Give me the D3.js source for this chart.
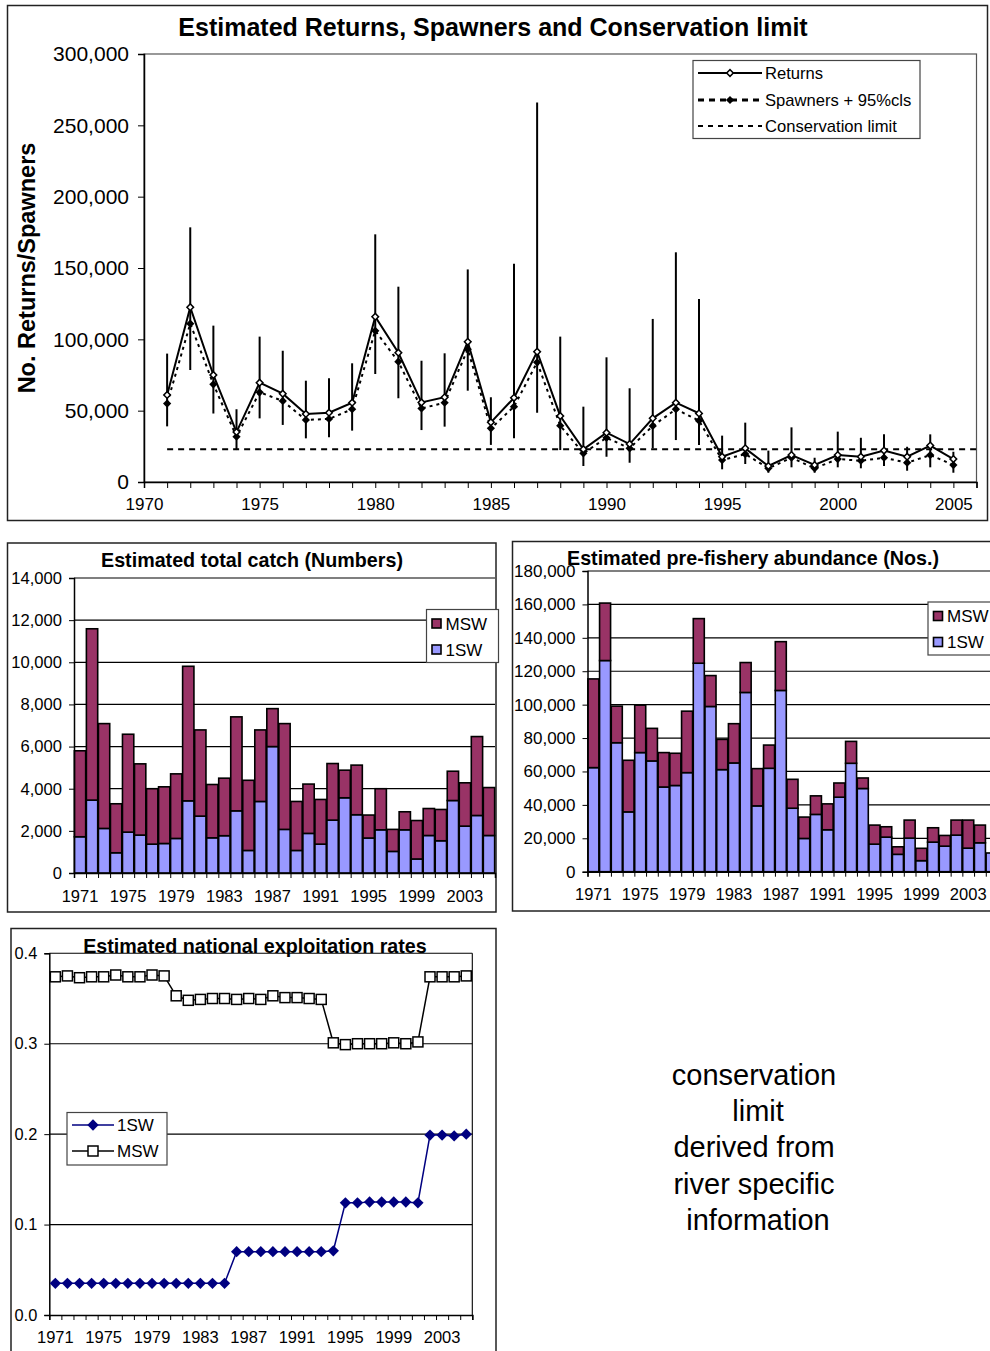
<!DOCTYPE html>
<html>
<head>
<meta charset="utf-8">
<script src="https://cdn.jsdelivr.net/npm/d3@7"></script>
<style>
  body { margin: 0; background: #fff; }
  svg { display: block; font-family: "Liberation Sans", Arial, sans-serif; }
</style>
</head>
<body>
<svg id="chart" width="990" height="1351"></svg>
<script>
// ---- data ----
const years = [1971, 1972, 1973, 1974, 1975, 1976, 1977, 1978, 1979, 1980,
  1981, 1982, 1983, 1984, 1985, 1986, 1987, 1988, 1989, 1990,
  1991, 1992, 1993, 1994, 1995, 1996, 1997, 1998, 1999, 2000,
  2001, 2002, 2003, 2004, 2005];
const yearLabels = [1971, 1975, 1979, 1983, 1987, 1991, 1995, 1999, 2003];

const returns = [61000, 122500, 75000, 35000, 69600, 61900, 47700, 48600, 55600, 115900,
  90600, 55800, 59400, 98300, 41800, 59000, 91300, 46300, 22900, 34600,
  26600, 44600, 55600, 48100, 17700, 23600, 11200, 18900, 11900, 18900,
  17700, 22000, 17700, 25500, 16100];
const spawners = [55000, 111000, 68500, 31800, 62900, 56800, 43500, 44200, 51000, 106000,
  84300, 51600, 55600, 93000, 37600, 52800, 83900, 39500, 20100, 31000,
  23600, 39300, 51000, 43000, 15400, 19600, 9600, 17000, 9600, 16100,
  14900, 17000, 13500, 18900, 11900];
const spawnersHi = [90000, 178500, 109600, 51000, 101900, 92000, 71000, 72700, 83200, 173600,
  136900, 85000, 90200, 149000, 59400, 153000, 266000, 101900, 52800, 87400,
  65700, 114300, 161000, 128300, 32500, 41600, 22000, 38300, 17000, 35300,
  31000, 33400, 24700, 33400, 21200];
const spawnersLo = [39000, 78500, 48000, 22400, 44600, 40000, 30600, 31300, 36000, 75700,
  58700, 36400, 38800, 64000, 26000, 30600, 48600, 22400, 11200, 17700,
  13500, 23600, 29400, 26000, 8900, 12600, 6500, 10300, 6500, 10300,
  9600, 11200, 7900, 10300, 6500];
const conservationLimit = 23000;

const catch1SW = [1720, 3460, 2115, 960, 1940, 1800, 1370, 1400, 1640, 3425,
  2700, 1670, 1770, 2950, 1070, 3395, 6000, 2070, 1070, 1880,
  1370, 2510, 3570, 2765, 1660, 2050, 1025, 2050, 665, 1780,
  1530, 3440, 2225, 2730, 1780];
const catchMSW = [4080, 8130, 4975, 2325, 4645, 3380, 2630, 2690, 3065, 6385,
  4090, 2530, 2730, 4460, 3330, 3395, 1800, 5020, 2325, 2340,
  2120, 2685, 1310, 2355, 1090, 1950, 1045, 855, 1825, 1280,
  1485, 1390, 2055, 3745, 2275];

const abund1SW = [62300, 126400, 77200, 35800, 71300, 66300, 50700, 51600, 59300, 124800,
  98900, 61100, 65100, 107300, 39400, 61900, 108500, 38000, 19900, 34300,
  25100, 44600, 64900, 49800, 16500, 20700, 10400, 20100, 6600, 17700,
  15300, 21900, 14100, 17300, 11200];
const abundMSW = [53100, 34400, 21900, 30900, 28400, 19500, 20600, 19300, 36800, 26700,
  18500, 18100, 23500, 17900, 22300, 13900, 29200, 17300, 12800, 11100,
  15500, 8500, 13100, 6300, 11400, 6200, 4500, 10800, 7400, 8600,
  6400, 9000, 16800, 10600, 0];

const exploit1SW = [0.035, 0.035, 0.035, 0.035, 0.035, 0.035, 0.035, 0.035, 0.035, 0.035,
  0.035, 0.035, 0.035, 0.035, 0.035, 0.070, 0.070, 0.070, 0.070, 0.070,
  0.070, 0.070, 0.070, 0.071, 0.124, 0.124, 0.125, 0.125, 0.125, 0.125,
  0.124, 0.199, 0.199, 0.198, 0.200];
const exploitMSW = [0.374, 0.375, 0.373, 0.374, 0.374, 0.376, 0.374, 0.374, 0.376, 0.375,
  0.353, 0.348, 0.349, 0.350, 0.350, 0.349, 0.350, 0.349, 0.353, 0.351,
  0.351, 0.350, 0.349, 0.301, 0.299, 0.300, 0.300, 0.300, 0.301, 0.300,
  0.302, 0.374, 0.374, 0.374, 0.375];

const noteLines = ['conservation', ' limit', 'derived from', 'river specific', ' information'];

const COL_MSW = '#993366';
const COL_1SW = '#9999ff';
const COL_NAVY = '#000080';

const svg = d3.select('#chart');

function frame(x, y, w, h) {
  svg.append('rect')
    .attr('x', x).attr('y', y).attr('width', w).attr('height', h)
    .attr('fill', 'none').attr('stroke', '#222').attr('stroke-width', 1.5);
}

// d3 axes put their own font on the group, undo that
function styleAxis(g, size) {
  g.attr('font-family', null).attr('font-size', size);
  g.selectAll('text').attr('fill', '#000');
  g.selectAll('line').attr('stroke', '#000');
  g.select('.domain').attr('stroke', '#000').attr('stroke-width', 1.5);
}

function diamond(size) {
  return d3.symbol(d3.symbolSquare, size);
}

// ---------------- top chart ----------------
frame(7.5, 5.5, 980, 515);
const T = { left: 144, right: 976.5, top: 54, bottom: 482 };
const xT = d3.scaleLinear().domain([1970, 2006]).range([T.left, T.right]);
const yT = d3.scaleLinear().domain([0, 300000]).range([T.bottom, T.top]);
const topG = svg.append('g');

topG.append('rect')
  .attr('x', T.left).attr('y', T.top)
  .attr('width', T.right - T.left).attr('height', T.bottom - T.top)
  .attr('fill', 'none').attr('stroke', '#555').attr('stroke-width', 1.2);

topG.append('g')
  .attr('transform', `translate(${T.left},0)`)
  .call(d3.axisLeft(yT).tickValues(d3.range(0, 300001, 50000))
    .tickFormat(d3.format(',')).tickSize(6).tickPadding(9))
  .call(g => styleAxis(g, 21));

topG.append('g')
  .attr('transform', `translate(0,${T.bottom})`)
  .call(d3.axisBottom(xT).tickValues(d3.range(1970, 2007))
    .tickFormat(d => d % 5 === 0 ? d : '').tickSize(6).tickPadding(10))
  .call(g => styleAxis(g, 17));

topG.append('text')
  .attr('x', 493).attr('y', 36).attr('text-anchor', 'middle')
  .attr('font-size', 25).attr('font-weight', 'bold')
  .text('Estimated Returns, Spawners and Conservation limit');

topG.append('text')
  .attr('transform', 'translate(35,268) rotate(-90)')
  .attr('text-anchor', 'middle').attr('font-size', 23.5).attr('font-weight', 'bold')
  .text('No. Returns/Spawners');

const topRows = years.map((yr, i) => ({
  year: yr, ret: returns[i], spw: spawners[i], hi: spawnersHi[i], lo: spawnersLo[i]
}));

// 95% cls
topG.append('g').selectAll('line').data(topRows).join('line')
  .attr('x1', d => xT(d.year)).attr('x2', d => xT(d.year))
  .attr('y1', d => yT(d.lo)).attr('y2', d => yT(d.hi))
  .attr('stroke', '#000').attr('stroke-width', 2);

// conservation limit
topG.append('line')
  .attr('x1', xT(years[0])).attr('x2', xT(xT.domain()[1]))
  .attr('y1', yT(conservationLimit)).attr('y2', yT(conservationLimit))
  .attr('stroke', '#000').attr('stroke-width', 2).attr('stroke-dasharray', '6,5');

topG.append('path').datum(topRows)
  .attr('d', d3.line().x(d => xT(d.year)).y(d => yT(d.spw)))
  .attr('fill', 'none').attr('stroke', '#000').attr('stroke-width', 2)
  .attr('stroke-dasharray', '3,4');

topG.append('path').datum(topRows)
  .attr('d', d3.line().x(d => xT(d.year)).y(d => yT(d.ret)))
  .attr('fill', 'none').attr('stroke', '#000').attr('stroke-width', 2);

topG.append('g').selectAll('path').data(topRows).join('path')
  .attr('d', diamond(34))
  .attr('transform', d => `translate(${xT(d.year)},${yT(d.spw)}) rotate(45)`)
  .attr('fill', '#000');

topG.append('g').selectAll('path').data(topRows).join('path')
  .attr('d', diamond(22))
  .attr('transform', d => `translate(${xT(d.year)},${yT(d.ret)}) rotate(45)`)
  .attr('fill', '#fff').attr('stroke', '#000').attr('stroke-width', 1.5);

// legend
const lg = topG.append('g');
lg.append('rect').attr('x', 693).attr('y', 60.5).attr('width', 227).attr('height', 78)
  .attr('fill', '#fff').attr('stroke', '#444').attr('stroke-width', 1.2);
const legendRows = [
  { label: 'Returns', y: 73, dash: null, width: 2.2, marker: 'open' },
  { label: 'Spawners + 95%cls', y: 100, dash: '6,5', width: 3, marker: 'fill' },
  { label: 'Conservation limit', y: 126, dash: '5,5', width: 1.8, marker: null }
];
legendRows.forEach(r => {
  lg.append('line').attr('x1', 698).attr('x2', 762).attr('y1', r.y).attr('y2', r.y)
    .attr('stroke', '#000').attr('stroke-width', r.width)
    .attr('stroke-dasharray', r.dash);
  if (r.marker) {
    lg.append('path').attr('d', diamond(r.marker === 'fill' ? 34 : 22))
      .attr('transform', `translate(730,${r.y}) rotate(45)`)
      .attr('fill', r.marker === 'fill' ? '#000' : '#fff')
      .attr('stroke', '#000').attr('stroke-width', r.marker === 'fill' ? 0 : 1.5);
  }
  lg.append('text').attr('x', 765).attr('y', r.y + 6).attr('font-size', 16.6).text(r.label);
});

// ---------------- stacked bar charts ----------------
function stackedBars(cfg) {
  const rows = years.map((yr, i) => ({ year: yr, oneSW: cfg.oneSW[i], msw: cfg.msw[i] }));
  const x = d3.scaleBand().domain(years).range([cfg.left, cfg.right]).paddingInner(0.06).paddingOuter(0.03);
  const xEdge = d3.scaleLinear().domain([0, years.length]).range([cfg.left, cfg.right]);
  const y = d3.scaleLinear().domain([0, cfg.max]).range([cfg.bottom, cfg.top]);
  const g = svg.append('g');

  g.append('g').selectAll('line').data(d3.range(cfg.step, cfg.max + 1, cfg.step)).join('line')
    .attr('x1', cfg.left).attr('x2', cfg.right)
    .attr('y1', d => y(d)).attr('y2', d => y(d))
    .attr('stroke', '#000').attr('stroke-width', 1.2);

  const series = d3.stack().keys(['oneSW', 'msw'])(rows);
  g.append('g').selectAll('g').data(series).join('g')
    .attr('fill', s => s.key === 'msw' ? COL_MSW : COL_1SW)
    .selectAll('rect').data(s => s).join('rect')
    .attr('x', d => x(d.data.year)).attr('width', x.bandwidth())
    .attr('y', d => y(d[1])).attr('height', d => y(d[0]) - y(d[1]))
    .attr('stroke', '#000').attr('stroke-width', 1.6);

  g.append('g')
    .attr('transform', `translate(${cfg.left},0)`)
    .call(d3.axisLeft(y).tickValues(d3.range(0, cfg.max + 1, cfg.step))
      .tickFormat(d3.format(',')).tickSize(5).tickPadding(7))
    .call(a => styleAxis(a, cfg.yFont));

  g.append('g')
    .attr('transform', `translate(0,${cfg.bottom})`)
    .call(d3.axisBottom(xEdge).tickValues(d3.range(0, years.length + 1))
      .tickFormat('').tickSize(5))
    .call(a => styleAxis(a, 16));

  g.append('g')
    .attr('transform', `translate(0,${cfg.bottom})`)
    .call(d3.axisBottom(x).tickValues(yearLabels).tickSize(0).tickPadding(17))
    .call(a => styleAxis(a, 16.5))
    .call(a => a.select('.domain').remove());

  g.append('text')
    .attr('x', cfg.titleX).attr('y', cfg.titleY).attr('text-anchor', 'middle')
    .attr('font-size', 19.7).attr('font-weight', 'bold').text(cfg.title);

  const lx = cfg.legendX, ly = cfg.legendY;
  g.append('rect').attr('x', lx).attr('y', ly).attr('width', 72).attr('height', 53)
    .attr('fill', '#fff').attr('stroke', '#444').attr('stroke-width', 1.2);
  [['MSW', COL_MSW, 14], ['1SW', COL_1SW, 40]].forEach(([k, c, dy]) => {
    g.append('rect').attr('x', lx + 5.5).attr('y', ly + dy - 4.5).attr('width', 9).attr('height', 9)
      .attr('fill', c).attr('stroke', '#000').attr('stroke-width', 1.6);
    g.append('text').attr('x', lx + 19).attr('y', ly + dy + 6).attr('font-size', 17).text(k);
  });
}

frame(7.5, 543, 488.5, 369);
stackedBars({
  left: 74, right: 495, top: 578, bottom: 873, max: 14000, step: 2000,
  oneSW: catch1SW, msw: catchMSW, yFont: 16.6,
  title: 'Estimated total catch (Numbers)', titleX: 252, titleY: 567,
  legendX: 426.5, legendY: 609.5
});

frame(512.5, 541.5, 490, 369.5);
stackedBars({
  left: 587.5, right: 997.5, top: 571, bottom: 871.7, max: 180000, step: 20000,
  oneSW: abund1SW, msw: abundMSW, yFont: 17,
  title: 'Estimated pre-fishery abundance (Nos.)', titleX: 753, titleY: 565,
  legendX: 928, legendY: 602
});

// ---------------- exploitation rates ----------------
frame(11, 928.5, 485, 440);
const E = { left: 49.3, right: 472.3, top: 953.3, bottom: 1315 };
const xE = d3.scaleBand().domain(years).range([E.left, E.right]);
const xEdgeE = d3.scaleLinear().domain([0, years.length]).range([E.left, E.right]);
const yE = d3.scaleLinear().domain([0, 0.4]).range([E.bottom, E.top]);
const ex = svg.append('g');

ex.append('g').selectAll('line').data([0.1, 0.2, 0.3, 0.4]).join('line')
  .attr('x1', E.left).attr('x2', E.right)
  .attr('y1', d => yE(d)).attr('y2', d => yE(d))
  .attr('stroke', '#000').attr('stroke-width', 1.1);
ex.append('line').attr('x1', E.right).attr('x2', E.right).attr('y1', E.top).attr('y2', E.bottom)
  .attr('stroke', '#000').attr('stroke-width', 1.1);

ex.append('g')
  .attr('transform', `translate(${E.left},0)`)
  .call(d3.axisLeft(yE).tickValues([0, 0.1, 0.2, 0.3, 0.4])
    .tickFormat(d3.format('.1f')).tickSize(5).tickPadding(7))
  .call(a => styleAxis(a, 16.4));

ex.append('g')
  .attr('transform', `translate(0,${E.bottom})`)
  .call(d3.axisBottom(xEdgeE).tickValues(d3.range(0, years.length + 1)).tickFormat('').tickSize(5))
  .call(a => styleAxis(a, 16));
ex.append('g')
  .attr('transform', `translate(0,${E.bottom})`)
  .call(d3.axisBottom(xE).tickValues(yearLabels).tickSize(0).tickPadding(16))
  .call(a => styleAxis(a, 16.5))
  .call(a => a.select('.domain').remove());

ex.append('text')
  .attr('x', 255).attr('y', 953).attr('text-anchor', 'middle')
  .attr('font-size', 19.7).attr('font-weight', 'bold').text('Estimated national exploitation rates');

const exRows = years.map((yr, i) => ({ year: yr, one: exploit1SW[i], msw: exploitMSW[i] }));
const cx = d => xE(d.year) + xE.bandwidth() / 2;

ex.append('path').datum(exRows)
  .attr('d', d3.line().x(cx).y(d => yE(d.msw)))
  .attr('fill', 'none').attr('stroke', '#000').attr('stroke-width', 1.5);
ex.append('g').selectAll('rect').data(exRows).join('rect')
  .attr('x', d => cx(d) - 5).attr('y', d => yE(d.msw) - 5)
  .attr('width', 10).attr('height', 10)
  .attr('fill', '#fff').attr('stroke', '#000').attr('stroke-width', 1.5);

ex.append('path').datum(exRows)
  .attr('d', d3.line().x(cx).y(d => yE(d.one)))
  .attr('fill', 'none').attr('stroke', COL_NAVY).attr('stroke-width', 1.5);
ex.append('g').selectAll('path').data(exRows).join('path')
  .attr('d', diamond(64))
  .attr('transform', d => `translate(${cx(d)},${yE(d.one)}) rotate(45)`)
  .attr('fill', COL_NAVY);

const el = ex.append('g');
el.append('rect').attr('x', 67).attr('y', 1112.5).attr('width', 100).attr('height', 52.5)
  .attr('fill', '#fff').attr('stroke', '#444').attr('stroke-width', 1.2);
el.append('line').attr('x1', 72).attr('x2', 114).attr('y1', 1125).attr('y2', 1125)
  .attr('stroke', COL_NAVY).attr('stroke-width', 1.5);
el.append('path').attr('d', diamond(64)).attr('transform', 'translate(93,1125) rotate(45)')
  .attr('fill', COL_NAVY);
el.append('text').attr('x', 117).attr('y', 1131).attr('font-size', 17).text('1SW');
el.append('line').attr('x1', 72).attr('x2', 114).attr('y1', 1151).attr('y2', 1151)
  .attr('stroke', '#000').attr('stroke-width', 1.5);
el.append('rect').attr('x', 88).attr('y', 1146).attr('width', 10).attr('height', 10)
  .attr('fill', '#fff').attr('stroke', '#000').attr('stroke-width', 1.5);
el.append('text').attr('x', 117).attr('y', 1157).attr('font-size', 17).text('MSW');

// ---------------- note ----------------
svg.append('g').selectAll('text').data(noteLines).join('text')
  .attr('x', 754).attr('y', (d, i) => 1085 + i * 36.2)
  .attr('text-anchor', 'middle').attr('font-size', 29)
  .style('white-space', 'pre')
  .text(d => d);
</script>
</body>
</html>
